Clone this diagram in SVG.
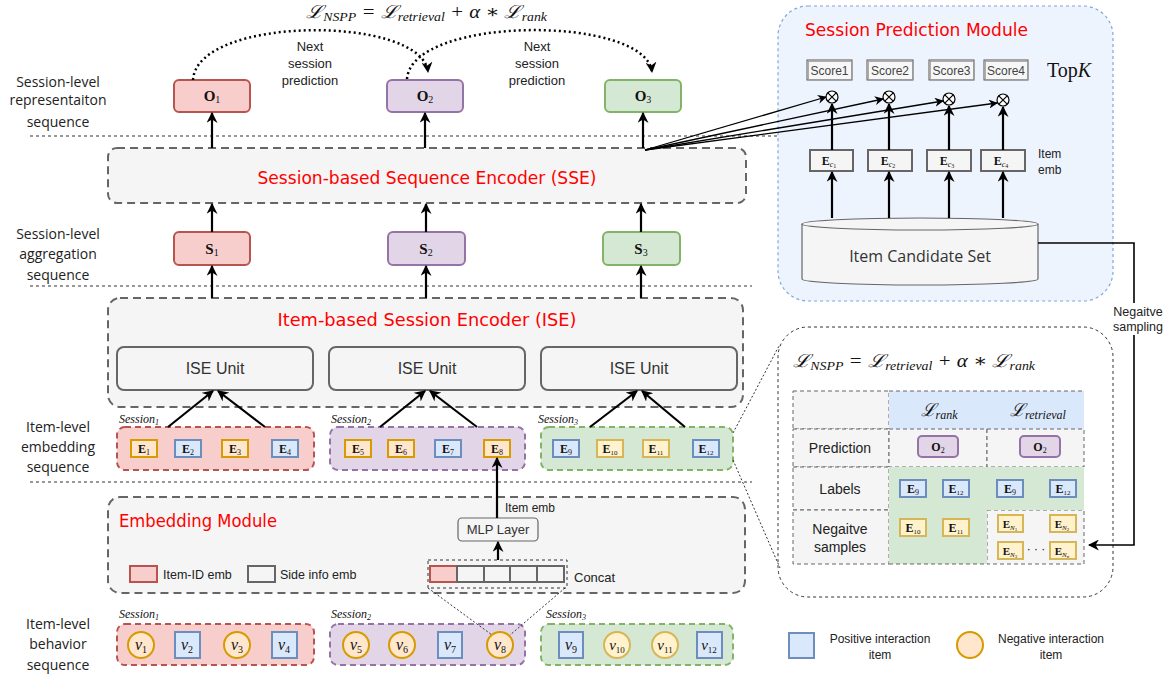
<svg xmlns="http://www.w3.org/2000/svg" width="1172" height="675" viewBox="0 0 1172 675">
<style>
.lbl{font-family:"Open Sans","Liberation Sans",sans-serif;font-size:14px;fill:#222;text-anchor:middle}
.ar{font-family:"Liberation Sans",Arial,sans-serif;fill:#222;text-anchor:middle}
.st{text-anchor:start}
.dk{fill:#333}
.red{font-family:"DejaVu Sans",sans-serif;font-size:17px;fill:#ff0000}
.m{font-family:"Liberation Serif","DejaVu Serif",serif;font-style:italic;fill:#111}
.mb{font-family:"Liberation Serif","DejaVu Serif",serif;font-weight:bold;fill:#111;text-anchor:middle}
.sep{stroke:#333;stroke-width:1.2;stroke-dasharray:3 3;fill:none}
.mod{fill:#f5f5f5;stroke:#666;stroke-width:2;stroke-dasharray:8 5}
.unit{fill:#f5f5f5;stroke:#666;stroke-width:2}
.rd{fill:#f8cecc;stroke:#b85450;stroke-width:2}
.pu{fill:#e1d5e7;stroke:#9673a6;stroke-width:2}
.gr{fill:#d5e8d4;stroke:#82b366;stroke-width:2}
.rdd{fill:#f8cecc;stroke:#b85450;stroke-width:2;stroke-dasharray:6 4}
.pud{fill:#e1d5e7;stroke:#9673a6;stroke-width:2;stroke-dasharray:6 4}
.grd{fill:#d5e8d4;stroke:#82b366;stroke-width:2;stroke-dasharray:6 4}
.bl{fill:#dae8fc;stroke:#6c8ebf;stroke-width:2}
.or{fill:#ffe6cc;stroke:#d79b00;stroke-width:2}
.ye{fill:#fff2cc;stroke:#d6b656;stroke-width:2}
.arr{stroke:#000;stroke-width:2.2;fill:none;marker-end:url(#ah)}
.thin{stroke:#000;stroke-width:1.3;fill:none;marker-end:url(#ahs)}
.dot{stroke:#000;stroke-width:2.5;stroke-dasharray:2 3;fill:none;marker-end:url(#ah)}
.fine{stroke:#333;stroke-width:1;stroke-dasharray:2 2;fill:none}
.cell{fill:#f5f5f5;stroke:#666;stroke-width:1;stroke-dasharray:4 3}
.sc{fill:#f7f7f7;stroke:#555;stroke-width:1}
.sc2{fill:none;stroke:#999;stroke-width:0.8}
</style>
<defs>
<marker id="ah" viewBox="0 0 10 10" refX="9" refY="5" markerWidth="11" markerHeight="11" orient="auto" markerUnits="userSpaceOnUse"><path d="M0,0 L10,5 L0,10 L3,5 z" fill="#000" stroke="none"/></marker>
<marker id="ahs" viewBox="0 0 10 10" refX="9" refY="5" markerWidth="9" markerHeight="9" orient="auto" markerUnits="userSpaceOnUse"><path d="M0,0 L10,5 L0,10 L3,5 z" fill="#000" stroke="none"/></marker>
</defs>
<rect width="1172" height="675" fill="#fff"/>

<!-- separators -->
<g id="separators">
<line class="sep" x1="30" y1="136" x2="778" y2="136"/>
<line class="sep" x1="30" y1="286" x2="752" y2="286"/>
<line class="sep" x1="30" y1="482" x2="752" y2="482"/>
</g>

<!-- left labels -->
<g id="row-labels">
<text class="lbl" x="58" y="87">Session-level</text>
<text class="lbl" x="58" y="105">representaiton</text>
<text class="lbl" x="58" y="127">sequence</text>
<text class="lbl" x="58" y="239">Session-level</text>
<text class="lbl" x="58" y="259">aggregation</text>
<text class="lbl" x="58" y="280">sequence</text>
<text class="lbl" x="58" y="432">Item-level</text>
<text class="lbl" x="58" y="452">embedding</text>
<text class="lbl" x="58" y="472">sequence</text>
<text class="lbl" x="58" y="629">Item-level</text>
<text class="lbl" x="58" y="649">behavior</text>
<text class="lbl" x="58" y="670">sequence</text>
</g>

<!-- top formula -->
<g id="formula-top">
<text class="m" x="306" y="18" font-size="18" textLength="241" lengthAdjust="spacingAndGlyphs">ℒ<tspan font-size="12" dy="3">NSPP</tspan><tspan dy="-3"> = ℒ</tspan><tspan font-size="12" dy="3">retrieval</tspan><tspan dy="-3"> + α ∗ ℒ</tspan><tspan font-size="12" dy="3">rank</tspan></text>
<text class="ar" x="310" y="51" font-size="13">Next</text>
<text class="ar" x="310" y="68" font-size="13">session</text>
<text class="ar" x="310" y="85" font-size="13">prediction</text>
<text class="ar" x="537" y="51" font-size="13">Next</text>
<text class="ar" x="537" y="68" font-size="13">session</text>
<text class="ar" x="537" y="85" font-size="13">prediction</text>
</g>

<!-- O nodes -->
<g id="O1"><rect class="rd" x="174" y="80" width="76" height="32" rx="5"/><text class="mb" x="212" y="101" font-size="15">O<tspan font-size="10" font-weight="normal" dy="2">1</tspan></text></g>
<g id="O2"><rect class="pu" x="387" y="80" width="76" height="32" rx="5"/><text class="mb" x="425" y="101" font-size="15">O<tspan font-size="10" font-weight="normal" dy="2">2</tspan></text></g>
<g id="O3"><rect class="gr" x="605" y="80" width="76" height="32" rx="5"/><text class="mb" x="643" y="101" font-size="15">O<tspan font-size="10" font-weight="normal" dy="2">3</tspan></text></g>

<!-- SSE -->
<g id="SSE"><rect class="mod" x="108" y="148" width="638" height="55" rx="9"/><text class="red" x="427" y="184" text-anchor="middle" textLength="339" lengthAdjust="spacingAndGlyphs">Session-based Sequence Encoder (SSE)</text></g>

<!-- S nodes -->
<g id="S1"><rect class="rd" x="174" y="232" width="76" height="33" rx="5"/><text class="mb" x="212" y="254" font-size="15">S<tspan font-size="10" font-weight="normal" dy="2">1</tspan></text></g>
<g id="S2"><rect class="pu" x="388" y="232" width="77" height="33" rx="5"/><text class="mb" x="426" y="254" font-size="15">S<tspan font-size="10" font-weight="normal" dy="2">2</tspan></text></g>
<g id="S3"><rect class="gr" x="603" y="232" width="77" height="33" rx="5"/><text class="mb" x="641" y="254" font-size="15">S<tspan font-size="10" font-weight="normal" dy="2">3</tspan></text></g>

<!-- ISE -->
<g id="ISE">
<rect class="mod" x="108" y="298" width="635" height="109" rx="12"/>
<text class="red" x="427" y="326" text-anchor="middle" textLength="299" lengthAdjust="spacingAndGlyphs">Item-based Session Encoder (ISE)</text>
</g>
<g id="ISE-unit-1"><rect class="unit" x="117" y="347" width="196" height="43" rx="7"/><text class="ar dk" x="215" y="374" font-size="16">ISE Unit</text></g>
<g id="ISE-unit-2"><rect class="unit" x="329" y="347" width="196" height="43" rx="7"/><text class="ar dk" x="427" y="374" font-size="16">ISE Unit</text></g>
<g id="ISE-unit-3"><rect class="unit" x="541" y="347" width="196" height="43" rx="7"/><text class="ar dk" x="639" y="374" font-size="16">ISE Unit</text></g>

<!-- Item-level embedding sequence -->
<g id="E-session-1">
<text class="m" x="119" y="423" font-size="12">Session<tspan font-size="8" dy="2">1</tspan></text>
<rect class="rdd" x="117" y="427" width="197" height="43" rx="8"/>
<rect class="or" x="131" y="440" width="26" height="17"/><text class="mb" x="144" y="453" font-size="12">E<tspan font-size="8" font-weight="normal" dy="2">1</tspan></text>
<rect class="bl" x="175" y="440" width="26" height="17"/><text class="mb" x="188" y="453" font-size="12">E<tspan font-size="8" font-weight="normal" dy="2">2</tspan></text>
<rect class="or" x="222" y="440" width="26" height="17"/><text class="mb" x="235" y="453" font-size="12">E<tspan font-size="8" font-weight="normal" dy="2">3</tspan></text>
<rect class="bl" x="272" y="440" width="26" height="17"/><text class="mb" x="285" y="453" font-size="12">E<tspan font-size="8" font-weight="normal" dy="2">4</tspan></text>
</g>
<g id="E-session-2">
<text class="m" x="331" y="423" font-size="12">Session<tspan font-size="8" dy="2">2</tspan></text>
<rect class="pud" x="330" y="427" width="195" height="43" rx="8"/>
<rect class="or" x="345" y="440" width="26" height="17"/><text class="mb" x="358" y="453" font-size="12">E<tspan font-size="8" font-weight="normal" dy="2">5</tspan></text>
<rect class="or" x="388" y="440" width="26" height="17"/><text class="mb" x="401" y="453" font-size="12">E<tspan font-size="8" font-weight="normal" dy="2">6</tspan></text>
<rect class="bl" x="435" y="440" width="26" height="17"/><text class="mb" x="448" y="453" font-size="12">E<tspan font-size="8" font-weight="normal" dy="2">7</tspan></text>
<rect class="or" x="484" y="440" width="26" height="17"/><text class="mb" x="497" y="453" font-size="12">E<tspan font-size="8" font-weight="normal" dy="2">8</tspan></text>
</g>
<g id="E-session-3">
<text class="m" x="538" y="423" font-size="12">Session<tspan font-size="8" dy="2">3</tspan></text>
<rect class="grd" x="541" y="427" width="192" height="43" rx="8"/>
<rect class="bl" x="553" y="440" width="26" height="17"/><text class="mb" x="566" y="453" font-size="12">E<tspan font-size="8" font-weight="normal" dy="2">9</tspan></text>
<rect class="ye" x="597" y="440" width="26" height="17"/><text class="mb" x="610" y="453" font-size="12">E<tspan font-size="7" font-weight="normal" dy="2">10</tspan></text>
<rect class="ye" x="643" y="440" width="26" height="17"/><text class="mb" x="656" y="453" font-size="12">E<tspan font-size="7" font-weight="normal" dy="2">11</tspan></text>
<rect class="bl" x="693" y="440" width="26" height="17"/><text class="mb" x="706" y="453" font-size="12">E<tspan font-size="7" font-weight="normal" dy="2">12</tspan></text>
</g>

<!-- Embedding module -->
<g id="embedding-module">
<rect class="mod" x="108" y="497" width="637" height="96" rx="12"/>
<text class="red" x="119" y="527" textLength="158" lengthAdjust="spacingAndGlyphs">Embedding Module</text>
<rect class="rd" x="130" y="566" width="27" height="16"/>
<text class="ar st" x="163" y="579" font-size="12.5">Item-ID emb</text>
<rect x="248" y="566" width="27" height="16" fill="#f5f5f5" stroke="#666" stroke-width="2"/>
<text class="ar st" x="280" y="579" font-size="12.5">Side info emb</text>
</g>
<g id="MLP-layer"><rect x="458" y="518" width="80" height="23" rx="4" fill="#f5f5f5" stroke="#666" stroke-width="1.2"/><text class="ar dk" x="498" y="534" font-size="13">MLP Layer</text></g>
<text class="ar st" x="505" y="512" font-size="12">Item emb</text>
<g id="concat">
<rect x="428" y="560" width="139" height="28" fill="none" stroke="#333" stroke-width="1" stroke-dasharray="3 3"/>
<rect x="430" y="566" width="27" height="16" class="rd"/>
<rect x="457" y="566" width="27" height="16" fill="#f5f5f5" stroke="#666" stroke-width="2"/>
<rect x="484" y="566" width="26" height="16" fill="#f5f5f5" stroke="#666" stroke-width="2"/>
<rect x="510" y="566" width="27" height="16" fill="#f5f5f5" stroke="#666" stroke-width="2"/>
<rect x="537" y="566" width="27" height="16" fill="#f5f5f5" stroke="#666" stroke-width="2"/>
<text class="ar st" x="574" y="582" font-size="13">Concat</text>
</g>

<!-- Item-level behavior sequence -->
<g id="v-session-1">
<text class="m" x="119" y="618" font-size="12">Session<tspan font-size="8" dy="2">1</tspan></text>
<rect class="rdd" x="117" y="624" width="197" height="41" rx="8"/>
<circle class="or" cx="141" cy="645" r="13"/><text class="m" x="141" y="650" font-size="16" text-anchor="middle">v<tspan font-size="10" font-style="normal" dy="3">1</tspan></text>
<rect class="bl" x="175" y="632" width="25" height="26"/><text class="m" x="187" y="650" font-size="16" text-anchor="middle">v<tspan font-size="10" font-style="normal" dy="3">2</tspan></text>
<circle class="or" cx="237" cy="645" r="13"/><text class="m" x="237" y="650" font-size="16" text-anchor="middle">v<tspan font-size="10" font-style="normal" dy="3">3</tspan></text>
<rect class="bl" x="272" y="632" width="25" height="26"/><text class="m" x="284" y="650" font-size="16" text-anchor="middle">v<tspan font-size="10" font-style="normal" dy="3">4</tspan></text>
</g>
<g id="v-session-2">
<text class="m" x="331" y="618" font-size="12">Session<tspan font-size="8" dy="2">2</tspan></text>
<rect class="pud" x="330" y="624" width="195" height="41" rx="8"/>
<circle class="or" cx="356" cy="645" r="13"/><text class="m" x="356" y="650" font-size="16" text-anchor="middle">v<tspan font-size="10" font-style="normal" dy="3">5</tspan></text>
<circle class="or" cx="402" cy="645" r="13"/><text class="m" x="402" y="650" font-size="16" text-anchor="middle">v<tspan font-size="10" font-style="normal" dy="3">6</tspan></text>
<rect class="bl" x="438" y="632" width="24" height="26"/><text class="m" x="450" y="650" font-size="16" text-anchor="middle">v<tspan font-size="10" font-style="normal" dy="3">7</tspan></text>
<circle class="or" cx="500" cy="645" r="13"/><text class="m" x="500" y="650" font-size="16" text-anchor="middle">v<tspan font-size="10" font-style="normal" dy="3">8</tspan></text>
</g>
<g id="v-session-3">
<text class="m" x="546" y="618" font-size="12">Session<tspan font-size="8" dy="2">3</tspan></text>
<rect class="grd" x="541" y="624" width="192" height="41" rx="8"/>
<rect class="bl" x="559" y="632" width="24" height="26"/><text class="m" x="571" y="650" font-size="16" text-anchor="middle">v<tspan font-size="10" font-style="normal" dy="3">9</tspan></text>
<circle class="ye" cx="617" cy="645" r="13"/><text class="m" x="617" y="650" font-size="15" text-anchor="middle">v<tspan font-size="9" font-style="normal" dy="3">10</tspan></text>
<circle class="ye" cx="665" cy="645" r="13"/><text class="m" x="665" y="650" font-size="15" text-anchor="middle">v<tspan font-size="9" font-style="normal" dy="3">11</tspan></text>
<rect class="bl" x="697" y="632" width="25" height="26"/><text class="m" x="709" y="650" font-size="15" text-anchor="middle">v<tspan font-size="9" font-style="normal" dy="3">12</tspan></text>
</g>

<!-- Session prediction module -->
<g id="session-prediction-module">
<rect x="778" y="6" width="335" height="295" rx="30" fill="#eef4fe" stroke="#7ea6e0" stroke-width="1.2" stroke-dasharray="3 3"/>
<text class="red" x="805" y="36" textLength="223" lengthAdjust="spacingAndGlyphs">Session Prediction Module</text>
<text x="1047" y="77" font-family="Liberation Serif,serif" font-size="20" fill="#111">Top<tspan font-style="italic">K</tspan></text>
<text class="ar st" x="1038" y="158" font-size="12">Item</text>
<text class="ar st" x="1038" y="174" font-size="12">emb</text>
</g>
<g id="scores">
<rect class="sc" x="807" y="60" width="45" height="20"/><rect class="sc2" x="808.5" y="61.5" width="43" height="18"/><text class="ar" x="829.5" y="75" font-size="12" style="fill:#444">Score1</text>
<rect class="sc" x="867" y="60" width="46" height="20"/><rect class="sc2" x="868.5" y="61.5" width="44" height="18"/><text class="ar" x="890" y="75" font-size="12" style="fill:#444">Score2</text>
<rect class="sc" x="929" y="60" width="45" height="20"/><rect class="sc2" x="930.5" y="61.5" width="43" height="18"/><text class="ar" x="951.5" y="75" font-size="12" style="fill:#444">Score3</text>
<rect class="sc" x="984" y="60" width="44" height="20"/><rect class="sc2" x="985.5" y="61.5" width="42" height="18"/><text class="ar" x="1006" y="75" font-size="12" style="fill:#444">Score4</text>
</g>
<g id="products" fill="#fff" stroke="#000" stroke-width="1.2">
<circle cx="832" cy="97" r="6"/><path d="M827.8,92.8 L836.2,101.2 M836.2,92.8 L827.8,101.2"/>
<circle cx="889" cy="97" r="6"/><path d="M884.8,92.8 L893.2,101.2 M893.2,92.8 L884.8,101.2"/>
<circle cx="949" cy="99" r="6"/><path d="M944.8,94.8 L953.2,103.2 M953.2,94.8 L944.8,103.2"/>
<circle cx="1003" cy="100" r="6"/><path d="M998.8,95.8 L1007.2,104.2 M1007.2,95.8 L998.8,104.2"/>
</g>
<g id="Ec-boxes">
<rect x="810" y="150" width="43" height="21" fill="#f5f5f5" stroke="#666" stroke-width="2"/><text class="mb" x="829" y="165" font-size="12">E<tspan font-size="8" font-weight="normal" font-style="italic" dy="2">c</tspan><tspan font-size="6" font-weight="normal" dy="1">1</tspan></text>
<rect x="868" y="150" width="44" height="21" fill="#f5f5f5" stroke="#666" stroke-width="2"/><text class="mb" x="888" y="165" font-size="12">E<tspan font-size="8" font-weight="normal" font-style="italic" dy="2">c</tspan><tspan font-size="6" font-weight="normal" dy="1">2</tspan></text>
<rect x="927" y="150" width="44" height="21" fill="#f5f5f5" stroke="#666" stroke-width="2"/><text class="mb" x="947" y="165" font-size="12">E<tspan font-size="8" font-weight="normal" font-style="italic" dy="2">c</tspan><tspan font-size="6" font-weight="normal" dy="1">3</tspan></text>
<rect x="981" y="150" width="44" height="21" fill="#f5f5f5" stroke="#666" stroke-width="2"/><text class="mb" x="1001" y="165" font-size="12">E<tspan font-size="8" font-weight="normal" font-style="italic" dy="2">c</tspan><tspan font-size="6" font-weight="normal" dy="1">4</tspan></text>
</g>
<g id="item-candidate-set">
<path d="M802,224 A118,6 0 0,1 1038,224 V279 A118,6 0 0,1 802,279 Z" fill="#f5f5f5" stroke="#666" stroke-width="1.2"/>
<path d="M802,224 A118,6 0 0,0 1038,224" fill="none" stroke="#666" stroke-width="1.2"/>
<text x="920" y="262" font-family="Open Sans,Liberation Sans,sans-serif" font-size="16" fill="#333" text-anchor="middle">Item Candidate Set</text>
</g>

<!-- NSPP loss box -->
<g id="loss-box">
<rect x="778" y="327" width="335" height="270" rx="30" fill="#fff" stroke="#333" stroke-width="1" stroke-dasharray="3 3"/>
<text class="m" x="793" y="367" font-size="18" textLength="242" lengthAdjust="spacingAndGlyphs">ℒ<tspan font-size="12" dy="3">NSPP</tspan><tspan dy="-3"> = ℒ</tspan><tspan font-size="12" dy="3">retrieval</tspan><tspan dy="-3"> + α ∗ ℒ</tspan><tspan font-size="12" dy="3">rank</tspan></text>
</g>
<g id="loss-table">
<rect class="cell" x="793" y="391" width="96" height="38"/>
<rect x="889" y="391" width="195" height="38" fill="#dae8fc"/>
<line x1="889" y1="391" x2="1084" y2="391" stroke="#666" stroke-dasharray="4 3"/>
<text class="m" x="939" y="416" font-size="18" text-anchor="middle">ℒ<tspan font-size="12" dy="3">rank</tspan></text>
<text class="m" x="1038" y="416" font-size="18" text-anchor="middle">ℒ<tspan font-size="12" dy="3">retrieval</tspan></text>
<rect class="cell" x="793" y="429" width="96" height="38"/>
<rect class="cell" x="889" y="429" width="98" height="38"/>
<rect class="cell" x="987" y="429" width="97" height="38"/>
<rect class="cell" x="793" y="467" width="96" height="43"/>
<rect class="cell" x="793" y="510" width="96" height="54"/>
<rect class="cell" x="987" y="510" width="97" height="54"/>
<path d="M889,467 H1084 V510 H987 V564 H889 Z" fill="#d5e8d4"/>
<line x1="889" y1="564" x2="987" y2="564" stroke="#666" stroke-dasharray="4 3"/>
<text class="ar" x="840" y="453" font-size="14">Prediction</text>
<text class="ar" x="840" y="494" font-size="14">Labels</text>
<text class="ar" x="840" y="534" font-size="14">Negaitve</text>
<text class="ar" x="840" y="552" font-size="14">samples</text>
<rect class="pu" x="918" y="436" width="40" height="21" rx="4"/><text class="mb" x="938" y="451" font-size="12">O<tspan font-size="8" font-weight="normal" dy="2">2</tspan></text>
<rect class="pu" x="1020" y="436" width="40" height="21" rx="4"/><text class="mb" x="1040" y="451" font-size="12">O<tspan font-size="8" font-weight="normal" dy="2">2</tspan></text>
<rect class="bl" x="900" y="480" width="26" height="17"/><text class="mb" x="913" y="493" font-size="12">E<tspan font-size="8" font-weight="normal" dy="2">9</tspan></text>
<rect class="bl" x="943" y="480" width="26" height="17"/><text class="mb" x="956" y="493" font-size="12">E<tspan font-size="7" font-weight="normal" dy="2">12</tspan></text>
<rect class="bl" x="997" y="480" width="26" height="17"/><text class="mb" x="1010" y="493" font-size="12">E<tspan font-size="8" font-weight="normal" dy="2">9</tspan></text>
<rect class="bl" x="1050" y="480" width="26" height="17"/><text class="mb" x="1063" y="493" font-size="12">E<tspan font-size="7" font-weight="normal" dy="2">12</tspan></text>
<rect class="ye" x="900" y="519" width="26" height="17"/><text class="mb" x="913" y="532" font-size="12">E<tspan font-size="7" font-weight="normal" dy="2">10</tspan></text>
<rect class="ye" x="943" y="519" width="26" height="17"/><text class="mb" x="956" y="532" font-size="12">E<tspan font-size="7" font-weight="normal" dy="2">11</tspan></text>
<rect class="ye" x="998" y="515" width="25" height="17"/><text class="mb" x="1010" y="528" font-size="11">E<tspan font-size="7" font-weight="normal" font-style="italic" dy="2">N</tspan><tspan font-size="5" font-weight="normal" dy="1">1</tspan></text>
<rect class="ye" x="1050" y="515" width="26" height="17"/><text class="mb" x="1062" y="528" font-size="11">E<tspan font-size="7" font-weight="normal" font-style="italic" dy="2">N</tspan><tspan font-size="5" font-weight="normal" dy="1">2</tspan></text>
<rect class="ye" x="998" y="542" width="25" height="17"/><text class="mb" x="1010" y="555" font-size="11">E<tspan font-size="7" font-weight="normal" font-style="italic" dy="2">N</tspan><tspan font-size="5" font-weight="normal" dy="1">3</tspan></text>
<rect class="ye" x="1050" y="542" width="26" height="17"/><text class="mb" x="1062" y="555" font-size="11">E<tspan font-size="7" font-weight="normal" font-style="italic" dy="2">N</tspan><tspan font-size="5" font-weight="normal" font-style="italic" dy="1">n</tspan></text>
<text class="ar" x="1036" y="553" font-size="12">· · ·</text>
</g>

<!-- bottom legend -->
<g id="legend">
<rect class="bl" x="789" y="633" width="25" height="25"/>
<text class="ar" x="880" y="643" font-size="12">Positive interaction</text>
<text class="ar" x="880" y="659" font-size="12">item</text>
<circle class="or" cx="970" cy="645" r="13"/>
<text class="ar" x="1051" y="643" font-size="12">Negative interaction</text>
<text class="ar" x="1051" y="659" font-size="12">item</text>
</g>

<!-- connectors -->
<g id="connectors">
<path class="dot" d="M193,80 C197,15 422,15 428,72"/>
<path class="dot" d="M407,79 C412,15 646,15 652,72"/>
<line class="arr" x1="212" y1="148" x2="212" y2="113"/>
<line class="arr" x1="425" y1="148" x2="425" y2="113"/>
<line class="arr" x1="643" y1="148" x2="643" y2="113"/>
<line class="arr" x1="212" y1="232" x2="212" y2="204"/>
<line class="arr" x1="426" y1="232" x2="426" y2="204"/>
<line class="arr" x1="641" y1="232" x2="641" y2="204"/>
<line class="arr" x1="212" y1="298" x2="212" y2="266"/>
<line class="arr" x1="426" y1="298" x2="426" y2="266"/>
<line class="arr" x1="641" y1="298" x2="641" y2="266"/>
<line class="arr" x1="168" y1="427" x2="213" y2="391"/>
<line class="arr" x1="265" y1="427" x2="218" y2="391"/>
<line class="arr" x1="380" y1="427" x2="425" y2="391"/>
<line class="arr" x1="477" y1="427" x2="430" y2="391"/>
<line class="arr" x1="590" y1="427" x2="637" y2="391"/>
<line class="arr" x1="685" y1="427" x2="642" y2="391"/>
<line class="arr" x1="497" y1="518" x2="497" y2="458"/>
<line class="arr" x1="498" y1="560" x2="498" y2="542"/>
<line class="fine" x1="428" y1="588" x2="492" y2="635"/>
<line class="fine" x1="565" y1="588" x2="510" y2="635"/>
<line class="fine" x1="733" y1="433" x2="779" y2="346"/>
<line class="fine" x1="733" y1="460" x2="780" y2="568"/>
<line class="thin" x1="645" y1="150" x2="826" y2="97"/>
<line class="thin" x1="645" y1="150" x2="883" y2="99"/>
<line class="thin" x1="645" y1="150" x2="943" y2="101"/>
<line class="thin" x1="645" y1="150" x2="997" y2="103"/>
<line class="arr" x1="832" y1="150" x2="832" y2="104"/>
<line class="arr" x1="889" y1="150" x2="889" y2="104"/>
<line class="arr" x1="949" y1="150" x2="949" y2="106"/>
<line class="arr" x1="1003" y1="150" x2="1003" y2="107"/>
<line class="arr" x1="832" y1="218" x2="832" y2="172"/>
<line class="arr" x1="889" y1="218" x2="889" y2="172"/>
<line class="arr" x1="949" y1="218" x2="949" y2="172"/>
<line class="arr" x1="1003" y1="218" x2="1003" y2="172"/>
<path d="M1038,243 H1134 V545 H1089" stroke="#000" stroke-width="1.6" fill="none" marker-end="url(#ah)"/>
<rect x="1106" y="303" width="64" height="32" fill="#fff"/>
<text class="ar" x="1138" y="316" font-size="12.5">Negaitve</text>
<text class="ar" x="1138" y="331" font-size="12.5">sampling</text>
</g>
</svg>
